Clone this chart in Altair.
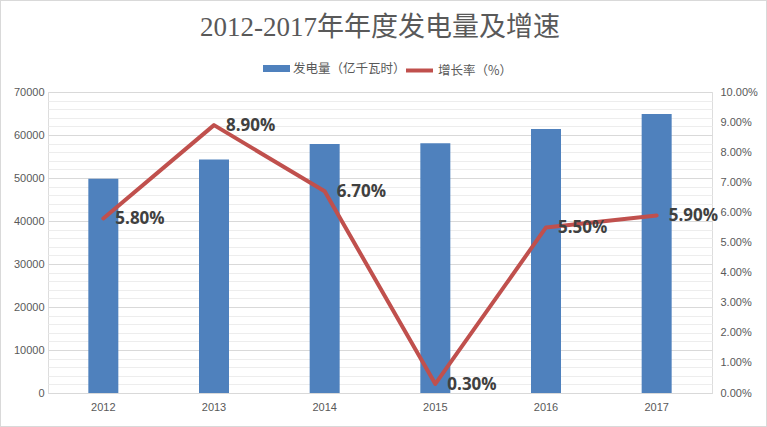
import altair as alt
import pandas as pd

years = ["2012", "2013", "2014", "2015", "2016", "2017"]
power = [49800, 54300, 57900, 58100, 61400, 64900]
growth = [5.80, 8.90, 6.70, 0.30, 5.50, 5.90]

bar_name = "发电量（亿千瓦时）"
line_name = "增长率（%）"

df = pd.DataFrame({
    "year": years,
    "power": power,
    "rate": [g / 100 for g in growth],
    "label": [f"{g:.2f}%" for g in growth],
    "s1": bar_name,
    "s2": line_name,
})

W, H = 664, 301
PL, PT, PR, PB = 48, 92, 55, 34

x = alt.X("year:N", title=None, sort=years,
          scale=alt.Scale(paddingInner=0, paddingOuter=0),
          axis=alt.Axis(labelAngle=0, ticks=False, domain=True, domainColor="#D9D9D9",
                        labelColor="#595959", labelFontSize=11, labelPadding=8,
                        labelFont="Liberation Sans"))

bars = alt.Chart(df).mark_bar(size=30).encode(
    x=x,
    y=alt.Y("power:Q", title=None,
            scale=alt.Scale(domain=[0, 70000], nice=False),
            axis=alt.Axis(values=list(range(0, 70001, 2000)),
                          labelExpr="datum.value % 10000 === 0 ? datum.label : ''",
                          format="d", ticks=False, domain=False, grid=True,
                          gridColor={"condition": {"test": "datum.value % 10000 === 0", "value": "#D9D9D9"}, "value": "#EDEDED"},
                          labelColor="#595959", labelFontSize=11, labelPadding=4,
                          labelFont="Liberation Sans")),
    fill=alt.Fill("s1:N", title=None,
                  scale=alt.Scale(domain=[bar_name], range=["#4F81BD"]),
                  legend=alt.Legend(orient="none", legendX=215, legendY=-37,
                                    symbolType="M-1,-0.26H1V0.26H-1Z", symbolSize=729,
                                    labelFont="Noto Sans CJK SC", labelFontSize=12.5,
                                    labelOffset=3,
                                    labelColor="#595959", symbolStrokeWidth=0)),
)

yr = alt.Y("rate:Q", title=None,
           scale=alt.Scale(domain=[0, 0.10], nice=False),
           axis=alt.Axis(orient="right", values=[i / 100 for i in range(0, 11)],
                         format=".2%", ticks=False, domain=False, grid=False,
                         labelColor="#595959", labelFontSize=11, labelPadding=8,
                         labelFont="Liberation Sans"))

line = alt.Chart(df).mark_line(strokeWidth=4, strokeCap="round", strokeJoin="round").encode(
    x=x,
    y=yr,
    stroke=alt.Stroke("s2:N", title=None,
                      scale=alt.Scale(domain=[line_name], range=["#C0504D"]),
                      legend=alt.Legend(orient="none", legendX=356, legendY=-37,
                                        symbolType="stroke", symbolSize=729, symbolStrokeWidth=4,
                                        labelFont="Noto Sans CJK SC", labelFontSize=12.5,
                                        labelOffset=3,
                                        labelColor="#595959")),
)

labels = alt.Chart(df).mark_text(align="left", baseline="middle", dx=12, dy=1,
                                 fontSize=17, fontWeight="bold", color="#404040",
                                 font="Open Sans").encode(
    x=x,
    y=yr,
    text="label:N",
)

border = alt.Chart(df).mark_rect(fill=None, stroke="#D9D9D9", strokeWidth=1).encode(
    x=alt.value(-PL + 0.5), x2=alt.value(W + PR - 0.5),
    y=alt.value(-PT + 0.5), y2=alt.value(H + PB - 0.5),
)

right = alt.layer(line, labels)

chart = alt.layer(bars, right, border).resolve_scale(
    y="independent", fill="independent", stroke="independent"
).properties(
    width=W, height=H,
    autosize=alt.AutoSizeParams(type="none"),
    padding={"left": PL, "top": PT, "right": PR, "bottom": PB},
    title=alt.Title("2012-2017年年度发电量及增速", fontSize=27, fontWeight="normal",
                    color="#595959", font="Liberation Serif, Noto Sans CJK SC",
                    anchor="middle", offset=-42),
).configure_view(stroke=None).configure(background="white")

chart.save("out.html", embed_options={"renderer": "svg", "actions": False})
